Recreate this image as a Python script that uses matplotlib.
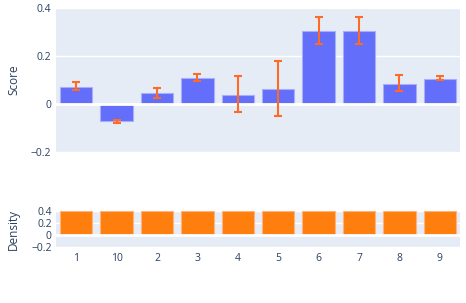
import matplotlib
matplotlib.use("Agg")
import matplotlib.pyplot as plt

# categories in the order they appear on the x axis
categories = ["1", "10", "2", "3", "4", "5", "6", "7", "8", "9"]
scores = [0.071, -0.071, 0.044, 0.110, 0.039, 0.064, 0.304, 0.304, 0.083, 0.104]
score_err = [0.017, 0.006, 0.022, 0.015, 0.075, 0.115, 0.058, 0.058, 0.033, 0.009]
err_center = [0.074, -0.074, 0.046, 0.111, 0.042, 0.066, 0.306, 0.306, 0.086, 0.108]
density = [0.4, 0.4, 0.4, 0.4, 0.4, 0.4, 0.4, 0.4, 0.4, 0.4]

bg = "#e5ecf6"
txt = "#2a3f5f"
plt.rcParams['font.family'] = ['Open Sans', 'DejaVu Sans']

fig = plt.figure(figsize=(4.66, 3.03), dpi=100)
W, H = 466, 303
ax1 = fig.add_axes([56 / W, 1 - 152 / H, 404 / W, 144 / H])
ax2 = fig.add_axes([56 / W, 1 - 247 / H, 404 / W, 36 / H])

x = list(range(len(categories)))

for ax in (ax1, ax2):
    ax.set_facecolor(bg)
    for s in ax.spines.values():
        s.set_visible(False)
    ax.tick_params(length=0, colors=txt, labelsize=7.5)
    ax.grid(axis="y", color="white", linewidth=1)
    ax.set_axisbelow(True)
    ax.set_xlim(-0.5, len(categories) - 0.5)

ax1.bar(x, scores, width=0.8, color="#636efa", edgecolor="#a9aefb", linewidth=0.8)
ax1.errorbar(x, err_center, yerr=score_err, fmt="none", ecolor="#ff6a26",
             elinewidth=1.5, capsize=3, capthick=1.5)
ax1.axhline(0, color="white", linewidth=2, zorder=1)
ax1.set_ylim(-0.2, 0.4)
ax1.set_yticks([-0.2, 0, 0.2, 0.4])
ax1.set_yticklabels(["\u22120.2", "0", "0.2", "0.4"])
ax1.set_xticks([])
ax1.set_ylabel("Score", color=txt, fontsize=8.5)
ax1.yaxis.set_label_coords(20 / W, 1 - 80 / H, transform=fig.transFigure)

ax2.bar(x, density, width=0.8, color="#ff7f0e", edgecolor="#ffb27a", linewidth=0.8)
ax2.axhline(0, color="white", linewidth=2, zorder=1)
ax2.set_ylim(-0.2, 0.4)
ax2.set_yticks([-0.2, 0, 0.2, 0.4])
ax2.set_yticklabels(["\u22120.2", "0", "0.2", "0.4"])
ax2.set_xticks(x)
ax2.set_xticklabels(categories)
ax2.tick_params(axis="x", pad=4)
ax2.tick_params(axis="y", pad=3)
ax2.set_ylabel("Density", color=txt, fontsize=8.5)
ax2.yaxis.set_label_coords(20 / W, 1 - 229 / H, transform=fig.transFigure)

fig.savefig("out.png", dpi=100, facecolor="white")
